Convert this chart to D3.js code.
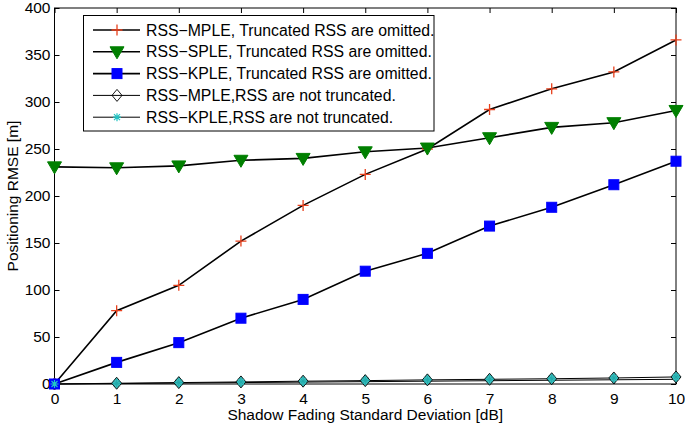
<!DOCTYPE html>
<html><head><meta charset="utf-8">
<script src="https://cdn.jsdelivr.net/npm/d3@7"></script>
<style>body{margin:0;background:#fff}svg{display:block;font-family:"Liberation Sans",Arial,sans-serif}</style>
</head><body><svg id="c" width="685" height="426"></svg>
<script>
const xVals = [0,1,2,3,4,5,6,7,8,9,10];
const mpleTrunc = [0,78,105,152,190,223,250,292,314,332,366];
const spleTrunc = [231,230,232,238,240,247,251,262,273,278,291];
const kpleTrunc = [0,23,44,70,90,120,139,168,188,212,237];
const mpleFull = [0,0.8,1.5,2.2,3,3.6,4.4,5,5.6,6.4,7.5];
const kpleFull = [0,0.4,1,1.5,2,2.5,3,3.5,4,4.5,5];
const xTicks = [0,1,2,3,4,5,6,7,8,9,10];
const yTicks = [0,50,100,150,200,250,300,350,400];
const labels = ["RSS\u2212MPLE, Truncated RSS are omitted.","RSS\u2212SPLE, Truncated RSS are omitted.","RSS\u2212KPLE, Truncated RSS are omitted.","RSS\u2212MPLE,RSS are not truncated.","RSS\u2212KPLE,RSS are not truncated."];

const L=54.5,R=676,T=8,B=384;
const svg=d3.select("#c");
const x=d3.scaleLinear().domain([0,10]).range([L,R]);
const y=d3.scaleLinear().domain([0,400]).range([B,T]);

svg.append("rect").attr("x",L).attr("y",T).attr("width",R-L).attr("height",B-T).attr("fill","none").attr("stroke","#000").attr("stroke-width",1);
const ax=d3.axisBottom(x).tickValues(xTicks).tickSize(-5).tickPadding(9).tickFormat(d3.format("d"));
const ay=d3.axisLeft(y).tickValues(yTicks).tickSize(-5).tickPadding(4);
svg.append("g").attr("transform",`translate(0,${B})`).call(ax);
svg.append("g").attr("transform",`translate(${L},0)`).call(ay);
svg.append("g").attr("transform",`translate(0,${T})`).call(d3.axisTop(x).tickValues(xTicks).tickSize(-5).tickFormat(""));
svg.append("g").attr("transform",`translate(${R},0)`).call(d3.axisRight(y).tickValues(yTicks).tickSize(-5).tickFormat(""));
svg.selectAll(".domain").remove();
svg.selectAll(".tick line").attr("stroke","#000");
svg.selectAll(".tick text").attr("font-size",15.5).attr("fill","#000").attr("font-family","Liberation Sans, Arial, sans-serif");

svg.append("text").attr("x",(L+R)/2).attr("y",420).attr("text-anchor","middle").attr("font-size",15.5).text("Shadow Fading Standard Deviation [dB]");
svg.append("text").attr("transform",`translate(18,${(T+B)/2}) rotate(-90)`).attr("text-anchor","middle").attr("font-size",15.5).text("Positioning RMSE [m]");

const line=d3.line().x((d,i)=>x(xVals[i])).y(d=>y(d));

function marker(sel,type,cx,cy){
  const m=sel.append("g").attr("transform",`translate(${cx},${cy})`);
  if(type==="plus"){
    m.append("path").attr("d","M-5.5,0H5.5M0,-5.5V5.5").attr("stroke","#e8401c").attr("stroke-width",1.3);
  }else if(type==="tri"){
    m.append("path").attr("d","M-7,-5H7L0,7Z").attr("fill","#007f00").attr("stroke","#007f00").attr("stroke-width",1);
  }else if(type==="sq"){
    m.append("rect").attr("x",-5).attr("y",-5).attr("width",10).attr("height",10).attr("fill","#0000ff").attr("stroke","#0000ff");
  }else if(type==="dia"){
    m.append("path").attr("d","M0,-6L5,0L0,6L-5,0Z").attr("fill","none").attr("stroke","#000").attr("stroke-width",0.9);
  }else if(type==="star"){
    m.append("path").attr("d","M-4,0H4M0,-4V4M-3,-3L3,3M-3,3L3,-3").attr("stroke","#22c4c4").attr("stroke-width",1.2);
  }
}
function diaFilled(sel,cx,cy){
  const m=sel.append("g").attr("transform",`translate(${cx},${cy})`);
  m.append("path").attr("d","M0,-6L5,0L0,6L-5,0Z").attr("fill","#3cc0c0").attr("stroke","#000").attr("stroke-width",0.9);
  m.append("path").attr("d","M-4,0H4M0,-4V4M-3,-3L3,3M-3,3L3,-3").attr("stroke","#22aaaa").attr("stroke-width",1);
}

const series=[
  {v:kpleFull,w:1},
  {v:mpleFull,w:1},
  {v:mpleTrunc,w:1.6},
  {v:spleTrunc,w:1.6},
  {v:kpleTrunc,w:1.6}
];
const pg=svg.append("g");
series.forEach(s=>{
  pg.append("path").datum(s.v).attr("d",line).attr("fill","none").attr("stroke","#000").attr("stroke-width",s.w);
});
mpleFull.forEach((d,i)=>diaFilled(pg,x(xVals[i]),y(d)));
[["plus",mpleTrunc],["tri",spleTrunc],["sq",kpleTrunc]].forEach(([t,v])=>v.forEach((d,i)=>marker(pg,t,x(xVals[i]),y(d))));
marker(pg,"star",x(0),y(0));

const lg=svg.append("g");
lg.append("rect").attr("x",83.5).attr("y",15.5).attr("width",350.5).attr("height",115.5).attr("fill","#fff").attr("stroke","#000");
const types=["plus","tri","sq","dia","star"];
const widths=[1.6,1.6,1.6,1,1];
labels.forEach((t,i)=>{
  const yy=30+i*21.8;
  lg.append("line").attr("x1",93).attr("x2",140).attr("y1",yy).attr("y2",yy).attr("stroke","#000").attr("stroke-width",widths[i]);
  marker(lg,types[i],117,yy);
  lg.append("text").attr("x",146).attr("y",yy+5.5).attr("font-size",15.8).text(t);
});
</script></body></html>
